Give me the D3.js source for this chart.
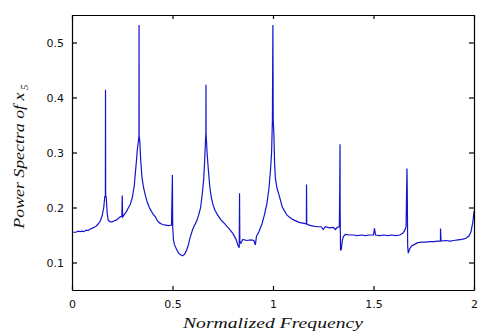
<!DOCTYPE html>
<html>
<head>
<meta charset="utf-8">
<script src="https://cdn.jsdelivr.net/npm/d3@7"></script>
<style>
  body { margin: 0; background: #fff; }
  svg { display: block; }
</style>
</head>
<body>
<script>
"use strict";
var width = 480;
var height = 334;
var margin = {left: 72, right: 6, top: 15, bottom: 44};

//x ticks and y ticks
var xTicks = [0, 0.5, 1, 1.5, 2];
var yTicks = [0.1, 0.2, 0.3, 0.4, 0.5];

//normalized frequency
var freq = [
  0.000, 0.020, 0.030, 0.040, 0.050, 0.060, 0.070, 0.080, 0.090, 0.100,
  0.110, 0.120, 0.130, 0.140, 0.150, 0.158, 0.163, 0.166, 0.1667, 0.1675,
  0.170, 0.175, 0.180, 0.190, 0.200, 0.210, 0.220, 0.230, 0.240, 0.248,
  0.250, 0.252, 0.260, 0.270, 0.280, 0.290, 0.300, 0.310, 0.315, 0.320,
  0.325, 0.330, 0.333, 0.3335, 0.334, 0.337, 0.342, 0.348, 0.355, 0.365,
  0.375, 0.385, 0.395, 0.405, 0.415, 0.425, 0.435, 0.450, 0.465, 0.480,
  0.495, 0.4995, 0.501, 0.505, 0.510, 0.520, 0.530, 0.540, 0.550, 0.560,
  0.570, 0.577, 0.580, 0.585, 0.590, 0.600, 0.610, 0.620, 0.630, 0.640,
  0.648, 0.655, 0.660, 0.664, 0.666, 0.6665, 0.667, 0.672, 0.678, 0.685,
  0.692, 0.700, 0.710, 0.725, 0.740, 0.758, 0.780, 0.800, 0.815, 0.825,
  0.832, 0.8335, 0.835, 0.840, 0.850, 0.870, 0.890, 0.905, 0.912, 0.918,
  0.930, 0.945, 0.957, 0.970, 0.980, 0.988, 0.993, 0.997, 0.9995, 1.001,
  1.004, 1.008, 1.012, 1.020, 1.030, 1.046, 1.060, 1.070, 1.090, 1.105,
  1.130, 1.155, 1.166, 1.1667, 1.168, 1.180, 1.200, 1.220, 1.240, 1.250,
  1.260, 1.280, 1.300, 1.310, 1.320, 1.330, 1.332, 1.3335, 1.334, 1.336,
  1.340, 1.345, 1.350, 1.360, 1.380, 1.400, 1.420, 1.440, 1.460, 1.480,
  1.500, 1.505, 1.510, 1.530, 1.550, 1.570, 1.590, 1.610, 1.630, 1.645,
  1.655, 1.662, 1.6665, 1.668, 1.670, 1.673, 1.680, 1.690, 1.700, 1.720,
  1.740, 1.760, 1.780, 1.800, 1.820, 1.833, 1.8335, 1.836, 1.860, 1.880,
  1.900, 1.920, 1.940, 1.960, 1.975, 1.985, 1.995, 2.000
];

//power spectra of x5
var power = [
  0.155, 0.155, 0.157, 0.156, 0.157, 0.156, 0.159, 0.158, 0.161, 0.162,
  0.164, 0.166, 0.170, 0.175, 0.185, 0.200, 0.220, 0.220, 0.414, 0.220,
  0.220, 0.190, 0.177, 0.174, 0.174, 0.176, 0.177, 0.180, 0.183, 0.184,
  0.222, 0.183, 0.187, 0.192, 0.199, 0.206, 0.218, 0.240, 0.262, 0.282,
  0.305, 0.320, 0.330, 0.532, 0.330, 0.322, 0.285, 0.255, 0.238, 0.222,
  0.209, 0.200, 0.193, 0.187, 0.183, 0.176, 0.172, 0.169, 0.168, 0.167,
  0.168, 0.259, 0.165, 0.140, 0.132, 0.124, 0.117, 0.114, 0.112, 0.115,
  0.122, 0.130, 0.133, 0.142, 0.148, 0.160, 0.168, 0.175, 0.186, 0.200,
  0.225, 0.250, 0.285, 0.320, 0.335, 0.423, 0.335, 0.300, 0.270, 0.240,
  0.220, 0.207, 0.196, 0.186, 0.178, 0.171, 0.162, 0.153, 0.143, 0.132,
  0.127, 0.226, 0.138, 0.135, 0.142, 0.140, 0.141, 0.140, 0.132, 0.148,
  0.156, 0.170, 0.186, 0.208, 0.235, 0.270, 0.300, 0.359, 0.532, 0.359,
  0.338, 0.280, 0.253, 0.235, 0.223, 0.201, 0.192, 0.186, 0.180, 0.177,
  0.173, 0.171, 0.170, 0.242, 0.170, 0.168, 0.166, 0.165, 0.165, 0.160,
  0.165, 0.163, 0.164, 0.160, 0.164, 0.165, 0.237, 0.315, 0.200, 0.122,
  0.125, 0.140, 0.147, 0.151, 0.150, 0.150, 0.149, 0.150, 0.149, 0.150,
  0.150, 0.162, 0.150, 0.149, 0.150, 0.149, 0.150, 0.149, 0.150, 0.153,
  0.158, 0.165, 0.271, 0.230, 0.130, 0.117, 0.125, 0.130, 0.132, 0.136,
  0.137, 0.137, 0.138, 0.138, 0.139, 0.139, 0.162, 0.139, 0.140, 0.139,
  0.140, 0.141, 0.142, 0.144, 0.148, 0.156, 0.175, 0.193
];

var points = freq.map(function (f, i) { return [f, power[i]]; });

var svg = d3.select("body").append("svg")
  .attr("width", width)
  .attr("height", height);

var x = d3.scaleLinear().domain([0, 2]).range([margin.left, width - margin.right]);
var y = d3.scaleLinear().domain([0.05, 0.55]).range([height - margin.bottom, margin.top]);

var tickFont = "'DejaVu Sans', sans-serif";
var labelFont = "'Liberation Serif', 'Times New Roman', serif";

svg.append("clipPath").attr("id", "plotArea")
  .append("rect")
  .attr("x", x(0)).attr("y", y(0.55))
  .attr("width", x(2) - x(0)).attr("height", y(0.05) - y(0.55));

//spectrum line
svg.append("path")
  .datum(points)
  .attr("clip-path", "url(#plotArea)")
  .attr("fill", "none")
  .attr("stroke", "#1414cc")
  .attr("stroke-width", 1.2)
  .attr("stroke-linejoin", "miter")
  .attr("d", d3.line().x(function (d) { return x(d[0]); }).y(function (d) { return y(d[1]); }));

//axes - ticks point inward, box drawn from all four sides
function styleAxis (g, showLabels) {
  g.select(".domain").attr("stroke", "#000").attr("stroke-width", 1.2);
  g.selectAll(".tick line").attr("stroke", "#000").attr("stroke-width", 1.2);
  g.selectAll(".tick text")
    .attr("font-family", tickFont)
    .attr("font-size", 11)
    .attr("fill", "#111")
    .style("display", showLabels ? null : "none");
}

var fmt = function (d) { return d === 0 ? "0" : d3.format("")(d); };

svg.append("g")
  .attr("transform", "translate(0," + y(0.05) + ")")
  .call(d3.axisBottom(x).tickValues(xTicks).tickFormat(fmt).tickSizeInner(-4).tickSizeOuter(0).tickPadding(10))
  .call(styleAxis, true);

svg.append("g")
  .attr("transform", "translate(0," + y(0.55) + ")")
  .call(d3.axisTop(x).tickValues(xTicks).tickSizeInner(-4).tickSizeOuter(0))
  .call(styleAxis, false);

svg.append("g")
  .attr("transform", "translate(" + x(0) + ",0)")
  .call(d3.axisLeft(y).tickValues(yTicks).tickFormat(d3.format(".1f")).tickSizeInner(-5).tickSizeOuter(0).tickPadding(8))
  .call(styleAxis, true);

svg.append("g")
  .attr("transform", "translate(" + x(2) + ",0)")
  .call(d3.axisRight(y).tickValues(yTicks).tickSizeInner(-5).tickSizeOuter(0))
  .call(styleAxis, false);

//axis titles
svg.append("text")
  .attr("x", (x(0) + x(2)) / 2)
  .attr("y", 328)
  .attr("text-anchor", "middle")
  .attr("font-family", labelFont)
  .attr("font-style", "italic")
  .attr("font-size", 15)
  .attr("fill", "#111")
  .attr("textLength", 180)
  .attr("lengthAdjust", "spacingAndGlyphs")
  .text("Normalized Frequency");

var yTitle = svg.append("text")
  .attr("transform", "translate(24," + ((y(0.05) + y(0.55)) / 2 + 4) + ") rotate(-90)")
  .attr("text-anchor", "middle")
  .attr("font-family", labelFont)
  .attr("font-style", "italic")
  .attr("font-size", 15)
  .attr("fill", "#111");
yTitle.append("tspan")
  .attr("textLength", 136)
  .attr("lengthAdjust", "spacingAndGlyphs")
  .text("Power Spectra of  x");
yTitle.append("tspan").attr("dy", 4).attr("font-size", 11).text(" 5");
</script>
</body>
</html>
